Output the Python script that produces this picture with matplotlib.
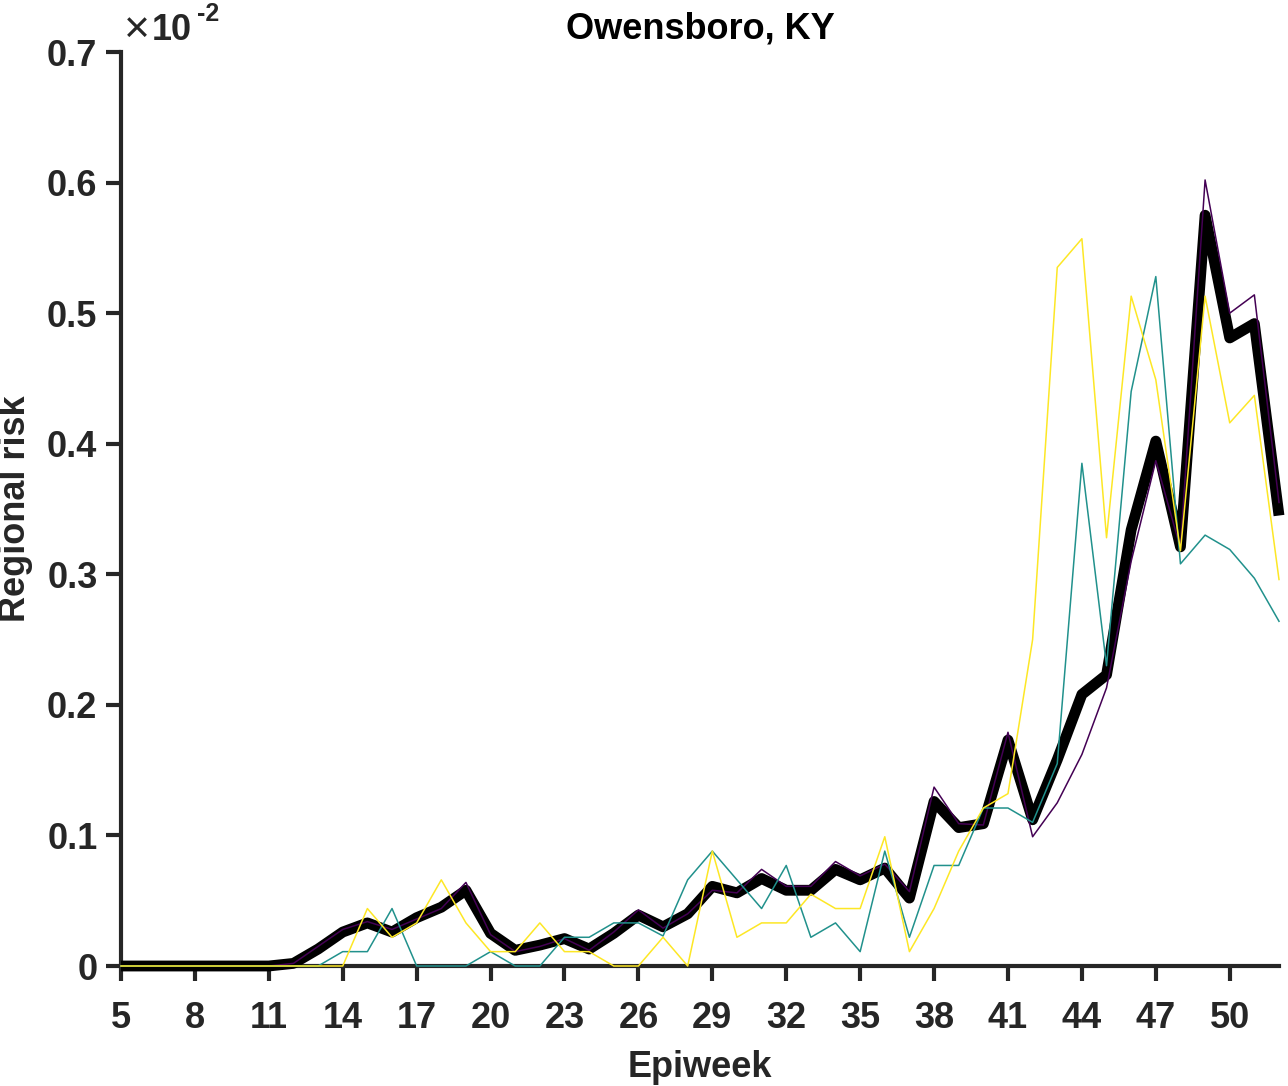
import matplotlib
matplotlib.use("Agg")
import matplotlib.pyplot as plt
import numpy as np

plt.rcParams["font.family"] = ["Liberation Sans", "DejaVu Sans"]
plt.rcParams["font.weight"] = "bold"

weeks = np.arange(5, 53)

# values shown in units of 1e-2
ensemble = [0, 0, 0, 0, 0, 0, 0, 0.002, 0.013, 0.026, 0.033, 0.026, 0.037, 0.045, 0.058,
            0.025, 0.012, 0.016, 0.021, 0.013, 0.025, 0.039, 0.030, 0.040, 0.061, 0.056,
            0.067, 0.058, 0.058, 0.074, 0.066, 0.075, 0.052, 0.126, 0.106, 0.109, 0.173,
            0.112, 0.158, 0.208, 0.223, 0.334, 0.402, 0.321, 0.575, 0.481, 0.492, 0.345]
model_a = [0, 0, 0, 0, 0, 0, 0, 0.002, 0.015, 0.028, 0.034, 0.028, 0.036, 0.044, 0.064,
           0.024, 0.011, 0.015, 0.021, 0.012, 0.026, 0.043, 0.029, 0.040, 0.058, 0.056,
           0.074, 0.061, 0.061, 0.080, 0.069, 0.078, 0.057, 0.137, 0.109, 0.108, 0.179,
           0.099, 0.125, 0.162, 0.213, 0.310, 0.387, 0.320, 0.602, 0.500, 0.514, 0.355]
model_b = [0, 0, 0, 0, 0, 0, 0, 0, 0, 0.011, 0.011, 0.044, 0, 0, 0,
           0.011, 0, 0, 0.022, 0.022, 0.033, 0.033, 0.023, 0.066, 0.088, 0.066,
           0.044, 0.077, 0.022, 0.033, 0.011, 0.088, 0.022, 0.077, 0.077, 0.121, 0.121,
           0.110, 0.155, 0.385, 0.230, 0.440, 0.528, 0.308, 0.330, 0.319, 0.297, 0.264]
model_c = [0, 0, 0, 0, 0, 0, 0, 0, 0, 0, 0.044, 0.022, 0.033, 0.066, 0.033,
           0.011, 0.011, 0.033, 0.011, 0.011, 0, 0, 0.022, 0, 0.088, 0.022,
           0.033, 0.033, 0.055, 0.044, 0.044, 0.099, 0.011, 0.044, 0.088, 0.121, 0.132,
           0.250, 0.535, 0.557, 0.328, 0.513, 0.449, 0.318, 0.513, 0.416, 0.437, 0.296]

xticks = np.arange(5, 51, 3)
yticks = np.arange(0, 0.71, 0.1)
ytick_labels = ["0", "0.1", "0.2", "0.3", "0.4", "0.5", "0.6", "0.7"]

W, H = 1288, 1086
fig = plt.figure(figsize=(W / 100, H / 100), dpi=100)
ax = fig.add_axes([121 / W, 1 - 966 / H, (1279 - 121) / W, (966 - 52) / H])

axcol = "#262626"
ax.plot(weeks, ensemble, color="black", lw=7.8, zorder=3, clip_on=False,
        solid_joinstyle="round", solid_capstyle="butt")
ax.plot(weeks, model_a, color="#440154", lw=1.1, zorder=4, clip_on=False)
ax.plot(weeks, model_b, color="#21918c", lw=1.1, zorder=4, clip_on=False)
ax.plot(weeks, model_c, color="#fde725", lw=1.1, zorder=4, clip_on=False)

ax.set_xlim(5, 52)
ax.set_ylim(0, 0.7)
ax.set_xticks(xticks)
ax.set_yticks(yticks)
ax.set_yticklabels(ytick_labels)

for s in ["top", "right"]:
    ax.spines[s].set_visible(False)
for s in ["left", "bottom"]:
    ax.spines[s].set_linewidth(3)
    ax.spines[s].set_color(axcol)
ax.tick_params(direction="out", length=11, width=3, color=axcol,
               labelcolor=axcol, labelsize=26)
ax.tick_params(axis="x", pad=14)
ax.tick_params(axis="y", pad=6)

ax.set_xlabel("Epiweek", fontsize=26, fontweight="bold", color=axcol, labelpad=10)
ax.set_ylabel("Regional risk", fontsize=26, fontweight="bold", color=axcol, labelpad=10)
ax.set_title("Owensboro, KY", fontsize=26, fontweight="bold", pad=10)

# exponent label
fig.text(124 / W, 1 - 42 / H, "\u00d7", fontsize=32, fontweight="normal", color=axcol)
fig.text(152 / W, 1 - 40 / H, "10", fontsize=26, fontweight="bold", color=axcol)
fig.text(197 / W, 1 - 21 / H, "-2", fontsize=18, fontweight="bold", color=axcol)

fig.savefig("out.png", dpi=100)
